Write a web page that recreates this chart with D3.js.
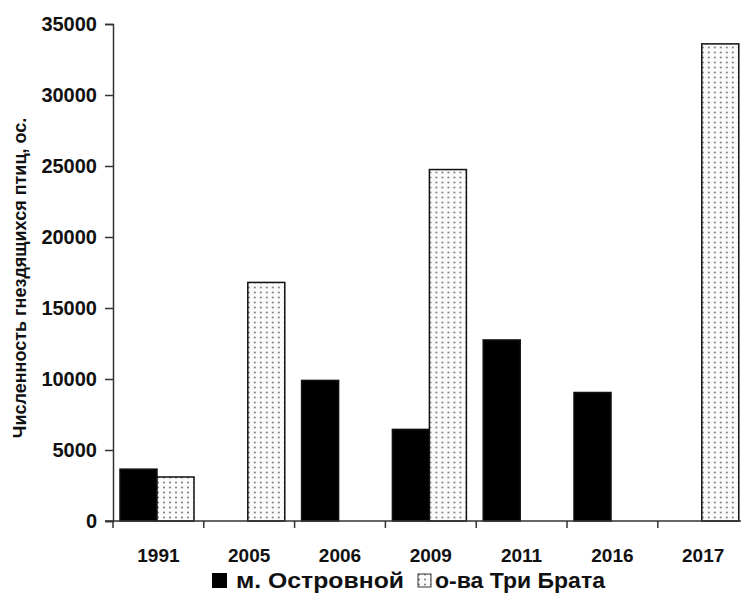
<!DOCTYPE html>
<html>
<head>
<meta charset="utf-8">
<script src="https://cdn.jsdelivr.net/npm/d3@7"></script>
<style>
  body { margin: 0; background: #fff; }
  text { font-family: "Liberation Sans", Arial, sans-serif; font-weight: bold; fill: #111; }
</style>
</head>
<body>
<svg></svg>
<script>
const years = ["1991", "2005", "2006", "2009", "2011", "2016", "2017"];
const series = ["м. Островной", "о-ва Три Брата"];
const ostrovnoy = [3650, 0, 9900, 6450, 12750, 9050, 0];
const triBrata = [3100, 16800, 0, 24750, 0, 0, 33600];
const yTicks = [0, 5000, 10000, 15000, 20000, 25000, 30000, 35000];

const width = 741, height = 598;
const svg = d3.select("svg").attr("width", width).attr("height", height);

const defs = svg.append("defs");
const pat = defs.append("pattern")
    .attr("id", "dots")
    .attr("patternUnits", "userSpaceOnUse")
    .attr("width", 6).attr("height", 5);
pat.append("rect").attr("width", 6).attr("height", 5).attr("fill", "#fbfbfb");
pat.append("circle").attr("cx", 3).attr("cy", 2.5).attr("r", 1).attr("fill", "#777");

const x = d3.scaleBand().domain(years).range([113, 113 + 7 * 90.8]);
const x1 = d3.scaleBand().domain(series).range([7, 81]);
const y = d3.scaleLinear().domain([0, 35000]).range([521, 24]);

const rows = years.map((yr, i) => ({ year: yr, values: [ostrovnoy[i], triBrata[i]] }));

const g = svg.append("g");
g.selectAll(".grp")
    .data(rows)
    .enter().append("g")
    .attr("transform", d => `translate(${x(d.year)},0)`)
    .selectAll("rect")
    .data(d => d.values.map((v, k) => ({ key: series[k], value: v, k })))
    .enter().filter(d => d.value > 0).append("rect")
    .attr("x", d => x1(d.key))
    .attr("width", x1.bandwidth())
    .attr("y", d => y(d.value))
    .attr("height", d => y(0) - y(d.value))
    .attr("fill", d => d.k === 0 ? "#000" : "url(#dots)")
    .attr("stroke", "#111")
    .attr("stroke-width", 1.5);

// y axis
const yAxis = svg.append("g")
    .attr("transform", "translate(113,0)")
    .call(d3.axisLeft(y).tickValues(yTicks).tickSize(8).tickPadding(8).tickFormat(d3.format("d")));
yAxis.select(".domain").attr("stroke", "#333").attr("stroke-width", 1.5);
yAxis.selectAll(".tick line").attr("stroke", "#333").attr("stroke-width", 1.5);
yAxis.selectAll("text").style("font-size", "20px").attr("fill", "#111");

// x axis
const xAxis = svg.append("g").attr("transform", "translate(0,521)");
xAxis.append("line").attr("x1", 105).attr("x2", width).attr("stroke", "#333").attr("stroke-width", 1.5);
xAxis.selectAll(".xt")
    .data(years.concat(["end"]))
    .enter().append("line")
    .attr("x1", (d, i) => 113 + i * x.bandwidth())
    .attr("x2", (d, i) => 113 + i * x.bandwidth())
    .attr("y1", 0).attr("y2", 7)
    .attr("stroke", "#333").attr("stroke-width", 1.5);
xAxis.selectAll(".xl")
    .data(years)
    .enter().append("text")
    .attr("x", d => x(d) + x.bandwidth() / 2)
    .attr("y", 41)
    .attr("text-anchor", "middle")
    .style("font-size", "19px")
    .text(d => d);

// y title
svg.append("text")
    .attr("transform", "translate(26,278) rotate(-90)")
    .attr("text-anchor", "middle")
    .style("font-size", "18px")
    .text("Численность гнездящихся птиц, ос.");

// legend
const leg = svg.append("g").attr("transform", "translate(212,572)");
leg.append("rect").attr("x", 0).attr("y", 1).attr("width", 15).attr("height", 15).attr("fill", "#000");
leg.append("text").attr("x", 24).attr("y", 15.5).style("font-size", "22px")
    .attr("textLength", 168).attr("lengthAdjust", "spacingAndGlyphs").text(series[0]);
leg.append("rect").attr("x", 206).attr("y", 2).attr("width", 13).attr("height", 13)
    .attr("fill", "url(#dots)").attr("stroke", "#333").attr("stroke-width", 1);
leg.append("text").attr("x", 223).attr("y", 15.5).style("font-size", "22px")
    .attr("textLength", 170).attr("lengthAdjust", "spacingAndGlyphs").text(series[1]);
</script>
</body>
</html>
